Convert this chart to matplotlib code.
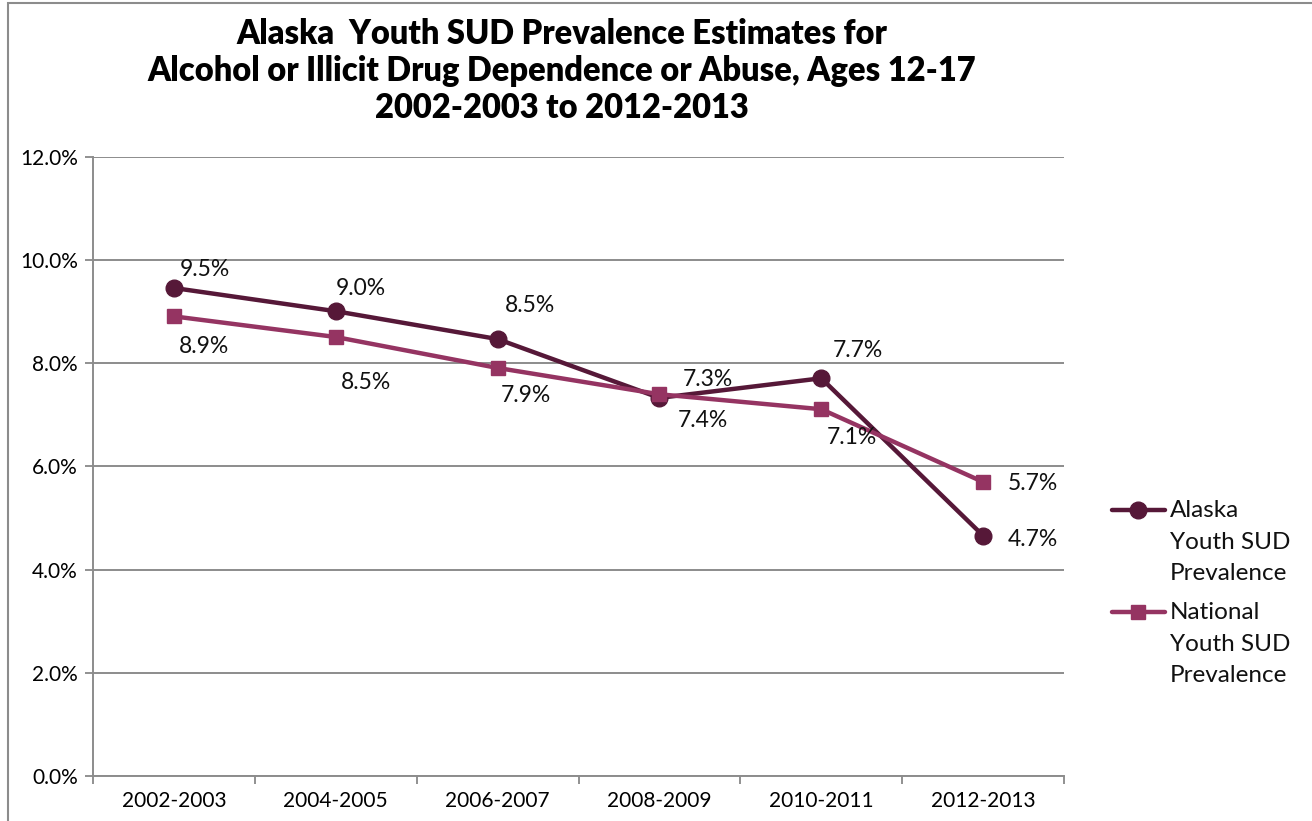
import numpy as np
import matplotlib.pyplot as plt
from matplotlib.lines import Line2D
from matplotlib.patches import Rectangle

# Chart data
periods = ["2002-2003", "2004-2005", "2006-2007", "2008-2009", "2010-2011", "2012-2013"]
alaska = [9.46, 9.01, 8.47, 7.33, 7.71, 4.66]
national = [8.91, 8.51, 7.91, 7.40, 7.11, 5.70]
series_names = ["Alaska\nYouth SUD\nPrevalence", "National\nYouth SUD\nPrevalence"]

# label offsets in points (as placed in the original)
alaska_off = [(22, 13), (18, 16), (23, 24), (35, 13), (26, 20), (36, -3)]
national_off = [(22, -22), (22, -33), (20, -20), (31, -19), (22, -20), (36, -1)]

c_alaska = "#561838"
c_national = "#953462"
font = "Lato"

fig = plt.figure(figsize=(13.12, 8.21), dpi=100)
ax = fig.add_axes([0.0709, 0.0548, 0.7401, 0.754])

x = np.arange(len(periods))
ax.plot(x, alaska, color=c_alaska, lw=3.2, marker="o", ms=12, zorder=3)
ax.plot(x, national, color=c_national, lw=3.2, marker="s", ms=10.5, zorder=3)

for xi, v, off in zip(x, alaska, alaska_off):
    ax.annotate(f"{v:.1f}%", (xi, v), xytext=off, textcoords="offset points",
                ha="center", va="center", fontsize=16.5, family=font, color="#111111")
for xi, v, off in zip(x, national, national_off):
    ax.annotate(f"{v:.1f}%", (xi, v), xytext=off, textcoords="offset points",
                ha="center", va="center", fontsize=16.5, family=font, color="#111111")

ax.set_xlim(-0.5, len(periods) - 0.5)
ax.set_ylim(0, 12)
ax.set_yticks(np.arange(0, 12.1, 2))
ax.set_yticklabels([f"{t:.1f}%" for t in np.arange(0, 12.1, 2)], family=font, fontsize=15)
ax.set_xticks(x)
ax.set_xticklabels(periods, family=font, fontsize=15)
ax.set_xticks(np.arange(-0.5, len(periods), 1), minor=True)
ax.tick_params(axis="x", which="major", length=0, pad=11)
ax.tick_params(axis="x", which="minor", length=6, color="#888888", width=1.3)
ax.tick_params(axis="y", length=6, color="#888888", width=1.3, pad=5)
ax.grid(axis="y", color="#8c8c8c", lw=1.4)
ax.set_axisbelow(True)
for s in ["top", "right"]:
    ax.spines[s].set_visible(False)
for s in ["left", "bottom"]:
    ax.spines[s].set_color("#8c8c8c")
    ax.spines[s].set_linewidth(1.4)

fig.text(0.428, 0.978, "Alaska  Youth SUD Prevalence Estimates for\n"
         "Alcohol or Illicit Drug Dependence or Abuse, Ages 12-17\n"
         "2002-2003 to 2012-2013",
         ha="center", va="top", fontsize=23.5, fontweight="heavy", family=font,
         linespacing=1.2)

# legend drawn by hand so the marker sits on the first text line
W, H = 1312, 821
for name, col, mk, ms, ypx in [(series_names[0], c_alaska, "o", 12, 510),
                               (series_names[1], c_national, "s", 10.5, 612)]:
    yf = 1 - ypx / H
    fig.add_artist(Line2D([1112 / W, 1165 / W], [yf, yf], color=col, lw=3.2,
                          solid_capstyle="round", transform=fig.transFigure))
    fig.add_artist(Line2D([1138 / W], [yf], color=col, marker=mk, ms=ms,
                          transform=fig.transFigure))
    fig.text(1170 / W, yf + 10 / H, name, ha="left", va="top", fontsize=17.5,
             family=font, linespacing=1.62, color="#111111")

# chart frame
fig.add_artist(Rectangle((8 / W, -0.05), 1.1, 1 - 3 / H + 0.05, fill=False,
                         edgecolor="#8c8c8c", lw=1.5, transform=fig.transFigure))

fig.savefig("out.png", dpi=100)
